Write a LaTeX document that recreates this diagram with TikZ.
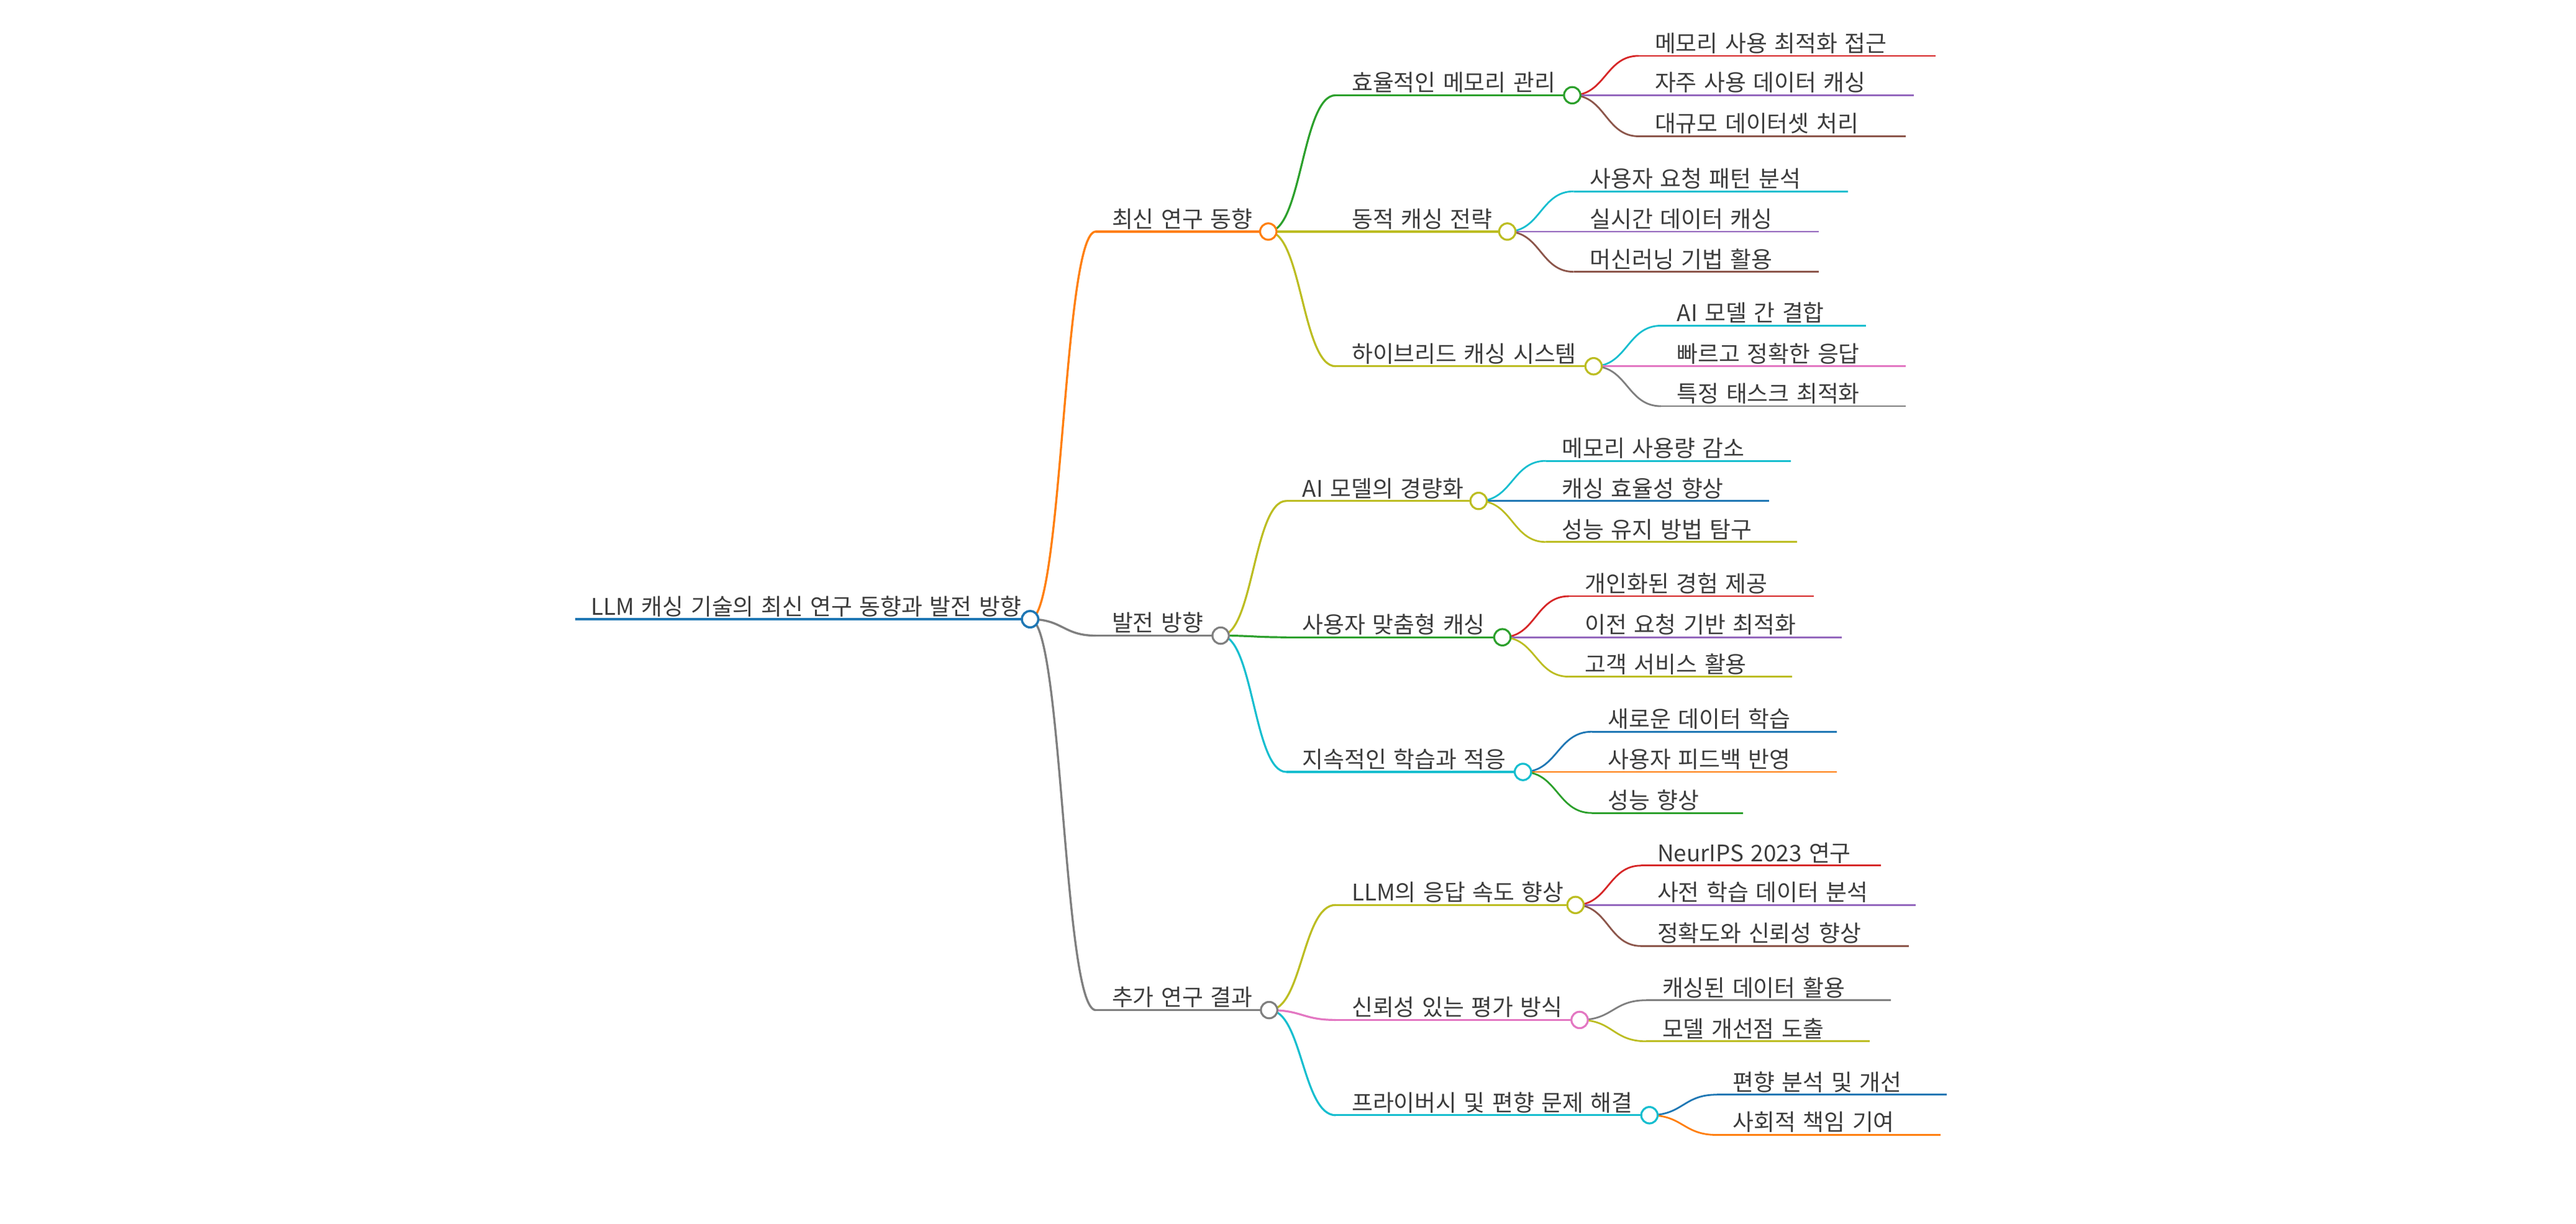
\documentclass[tikz,border=0pt]{standalone}
\usepackage{fontspec}
\setmainfont{Noto Sans CJK KR}[WordSpace=1.4]
\usetikzlibrary{calc}
\pgfdeclarelayer{foreground}
\pgfsetlayers{main,foreground}
\definecolor{cBlue}{HTML}{1F77B4}
\definecolor{cOrange}{HTML}{FF7F0E}
\definecolor{cGreen}{HTML}{2CA02C}
\definecolor{cRed}{HTML}{D62728}
\definecolor{cPurple}{HTML}{9467BD}
\definecolor{cBrown}{HTML}{8C564B}
\definecolor{cPink}{HTML}{E377C2}
\definecolor{cGray}{HTML}{7F7F7F}
\definecolor{cOlive}{HTML}{BCBD22}
\definecolor{cCyan}{HTML}{17BECF}
\definecolor{cText}{HTML}{3C3C3C}
\newcommand{\Unit}{0.6612pt}
\newcommand{\Rad}{3.3pt}
\tikzset{Dot/.style={
    circle,
    inner sep=0pt,
    minimum size=2*\Rad,
    fill=white,
    line width=0.8pt,
    },
    Label/.style={
    anchor=base west,
    inner sep=0pt,
    text=cText,
    font=\fontsize{9.2pt}{11pt}\selectfont,
    },
    Link/.style={to path={let \p1=(\tikztostart), \p2=(\tikztotarget),
        \p3=($(\p1)!0.5!(\p2)$) in
        .. controls (\x3,\y1) and (\x3,\y2) .. (\tikztotarget)}},
}
% #1 name, #2 parent dot, #3 line style, #4 x, #5 y, #6 end point, #7 text
\newcommand{\Branch}[7]{%
    \coordinate (s-#1) at (#4,#5);
    \coordinate (e-#1) at #6;
    \draw[#3] (s-#1) -- (e-#1);
    \draw[#3] (#2.center) to[Link] (s-#1);
    \node[Label] (t-#1) at ([xshift=9.5*\Unit, yshift=2.5*\Unit]s-#1) {#7};
}

\begin{document}
\begin{tikzpicture}[x=\Unit, y=-\Unit,
    Lv1/.style={line width=0.85pt},
    Lv2/.style={line width=0.8pt},
    Lv3/.style={line width=0.7pt},
]
\useasboundingbox (0,0) rectangle (1568,745.2);
% circles sit above the lines
\begin{pgfonlayer}{foreground}
\node[Dot, draw=cBlue, line width=0.9pt] (d-root) at (627,377) {};
\node[Dot, draw=cOrange] (d-A) at (772,141) {};
\node[Dot, draw=cGray] (d-B) at (743,387) {};
\node[Dot, draw=cGray] (d-C) at (772.5,615) {};
\node[Dot, draw=cGreen] (d-A1) at (957,58) {};
\node[Dot, draw=cOlive] (d-A2) at (917.5,141) {};
\node[Dot, draw=cOlive] (d-A3) at (970,223) {};
\node[Dot, draw=cOlive] (d-B1) at (900,305) {};
\node[Dot, draw=cGreen] (d-B2) at (914.5,388) {};
\node[Dot, draw=cCyan] (d-B3) at (927,470) {};
\node[Dot, draw=cOlive] (d-C1) at (959,551) {};
\node[Dot, draw=cPink] (d-C2) at (961.5,621) {};
\node[Dot, draw=cCyan] (d-C3) at (1004,679) {};
\end{pgfonlayer}

% root
\coordinate (s-root) at (350,377);
\draw[cBlue, line width=1.1pt] (s-root) -- (d-root.center);
\node[Label] (t-root) at ([xshift=9.5*\Unit, yshift=2.5*\Unit]s-root) {LLM 캐싱 기술의 최신 연구 동향과 발전 방향};

% first level
\Branch{A}{d-root}{Lv1,cOrange}{667}{141}{(d-A.center)}{최신 연구 동향}
\Branch{B}{d-root}{Lv1,cGray}{667}{387}{(d-B.center)}{발전 방향}
\Branch{C}{d-root}{Lv1,cGray}{667}{615}{(d-C.center)}{추가 연구 결과}

% second level
\Branch{A1}{d-A}{Lv2,cGreen}{813}{58}{(d-A1.center)}{효율적인 메모리 관리}
\Branch{A2}{d-A}{Lv2,cOlive}{813}{141}{(d-A2.center)}{동적 캐싱 전략}
\Branch{A3}{d-A}{Lv2,cOlive}{813}{223}{(d-A3.center)}{하이브리드 캐싱 시스템}
\Branch{B1}{d-B}{Lv2,cOlive}{783}{305}{(d-B1.center)}{AI 모델의 경량화}
\Branch{B2}{d-B}{Lv2,cGreen}{783}{388}{(d-B2.center)}{사용자 맞춤형 캐싱}
\Branch{B3}{d-B}{Lv2,cCyan}{783}{470}{(d-B3.center)}{지속적인 학습과 적응}
\Branch{C1}{d-C}{Lv2,cOlive}{813}{551}{(d-C1.center)}{LLM의 응답 속도 향상}
\Branch{C2}{d-C}{Lv2,cPink}{813}{621}{(d-C2.center)}{신뢰성 있는 평가 방식}
\Branch{C3}{d-C}{Lv2,cCyan}{813}{679}{(d-C3.center)}{프라이버시 및 편향 문제 해결}

% leaves
\Branch{A11}{d-A1}{Lv3,cRed}{997.5}{34}{(1178,34)}{메모리 사용 최적화 접근}
\Branch{A12}{d-A1}{Lv3,cPurple}{997.5}{58}{(1165,58)}{자주 사용 데이터 캐싱}
\Branch{A13}{d-A1}{Lv3,cBrown}{997.5}{83}{(1160,83)}{대규모 데이터셋 처리}
\Branch{A21}{d-A2}{Lv3,cCyan}{958}{116.5}{(1125,116.5)}{사용자 요청 패턴 분석}
\Branch{A22}{d-A2}{Lv3,cPurple}{958}{141}{(1107,141)}{실시간 데이터 캐싱}
\Branch{A23}{d-A2}{Lv3,cBrown}{958}{165.5}{(1107,165.5)}{머신러닝 기법 활용}
\Branch{A31}{d-A3}{Lv3,cCyan}{1011}{198.3}{(1136,198.3)}{AI 모델 간 결합}
\Branch{A32}{d-A3}{Lv3,cPink}{1011}{223}{(1160,223)}{빠르고 정확한 응답}
\Branch{A33}{d-A3}{Lv3,cGray}{1011}{247.3}{(1160,247.3)}{특정 태스크 최적화}
\Branch{B11}{d-B1}{Lv3,cCyan}{941}{280.6}{(1090,280.6)}{메모리 사용량 감소}
\Branch{B12}{d-B1}{Lv3,cBlue}{941}{305}{(1077,305)}{캐싱 효율성 향상}
\Branch{B13}{d-B1}{Lv3,cOlive}{941}{330}{(1094,330)}{성능 유지 방법 탐구}
\Branch{B21}{d-B2}{Lv3,cRed}{955}{363}{(1104,363)}{개인화된 경험 제공}
\Branch{B22}{d-B2}{Lv3,cPurple}{955}{388}{(1121,388)}{이전 요청 기반 최적화}
\Branch{B23}{d-B2}{Lv3,cOlive}{955}{412}{(1091,412)}{고객 서비스 활용}
\Branch{B31}{d-B3}{Lv3,cBlue}{969}{445.5}{(1118,445.5)}{새로운 데이터 학습}
\Branch{B32}{d-B3}{Lv3,cOrange}{969}{470}{(1118,470)}{사용자 피드백 반영}
\Branch{B33}{d-B3}{Lv3,cGreen}{969}{495}{(1061,495)}{성능 향상}
\Branch{C11}{d-C1}{Lv3,cRed}{999}{527}{(1145,527)}{NeurIPS 2023 연구}
\Branch{C12}{d-C1}{Lv3,cPurple}{999}{551}{(1166,551)}{사전 학습 데이터 분석}
\Branch{C13}{d-C1}{Lv3,cBrown}{999}{576}{(1162,576)}{정확도와 신뢰성 향상}
\Branch{C21}{d-C2}{Lv3,cGray}{1002}{609}{(1151,609)}{캐싱된 데이터 활용}
\Branch{C22}{d-C2}{Lv3,cOlive}{1002}{634}{(1138,634)}{모델 개선점 도출}
\Branch{C31}{d-C3}{Lv3,cBlue}{1045}{666.5}{(1185,666.5)}{편향 분석 및 개선}
\Branch{C32}{d-C3}{Lv3,cOrange}{1045}{691}{(1181,691)}{사회적 책임 기여}
\end{tikzpicture}
\end{document}
